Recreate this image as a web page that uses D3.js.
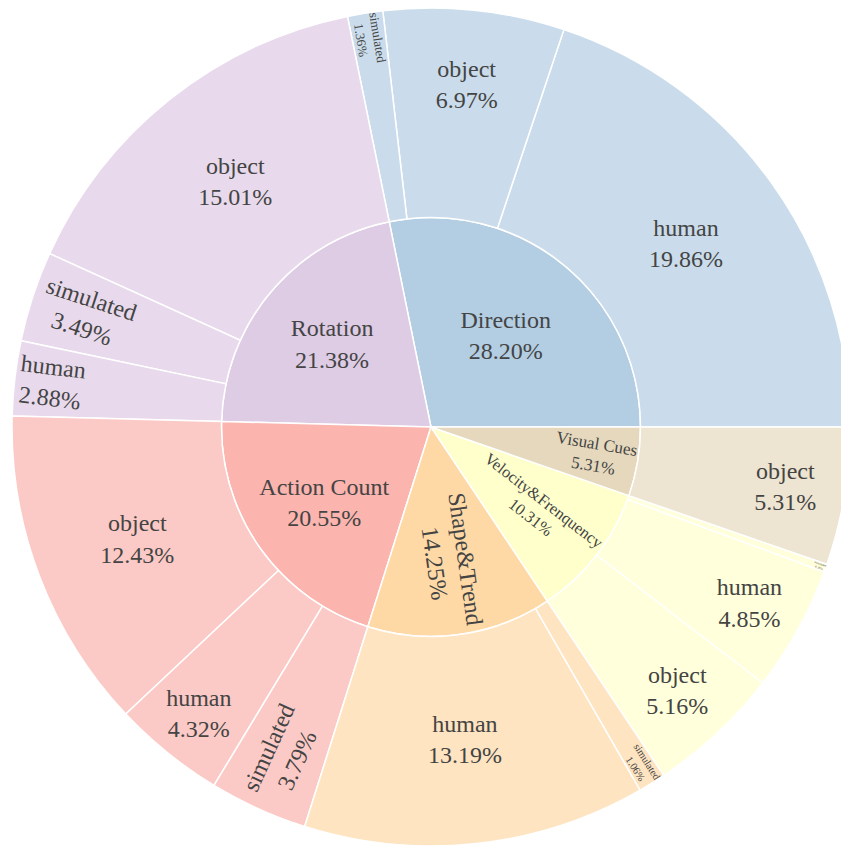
<!DOCTYPE html>
<html>
<head>
<meta charset="utf-8">
<script src="https://cdn.jsdelivr.net/npm/d3@7"></script>
<style>
  body { margin: 0; background: #fff; }
</style>
</head>
<body>
<svg id="chart" width="841" height="846"></svg>
<script>
// inner ring
var categories = ["Direction", "Rotation", "Action Count", "Shape&Trend", "Velocity&Frenquency", "Visual Cues"];
var categoryPct = [28.20, 21.38, 20.55, 14.25, 10.31, 5.31];
var categoryColors = ["#b3cde3", "#decbe4", "#fbb4ae", "#fed9a6", "#ffffcc", "#e5d8bd"];

// outer ring (per category)
var subLabels = [
  ["human", "object", "simulated"],
  ["object", "simulated", "human"],
  ["object", "human", "simulated"],
  ["human", "simulated"],
  ["object", "human", "simulated"],
  ["object"]
];
var subPct = [
  [19.86, 6.97, 1.36],
  [15.01, 3.49, 2.88],
  [12.43, 4.32, 3.79],
  [13.19, 1.06],
  [5.16, 4.85, 0.30],
  [5.31]
];

var cx = 431, cy = 427, R = 419;
var fontSize = 24, TEXTPAD = 3;
var fontFamily = "'Liberation Serif', 'Times New Roman', Times, 'DejaVu Serif', serif";

var svg = d3.select("#chart");
var g = svg.append("g").attr("transform", "translate(" + cx + "," + cy + ")");

var tree = {
  name: "root",
  children: categories.map(function(c, i) {
    return {
      name: c, pct: categoryPct[i], color: categoryColors[i],
      children: subLabels[i].map(function(s, j) {
        return {name: s, pct: subPct[i][j], value: subPct[i][j], color: categoryColors[i]};
      })
    };
  })
};

var root = d3.hierarchy(tree).sum(function(d) { return d.value || 0; });
d3.partition().size([2 * Math.PI, 3])(root);

var rScale = d3.scaleLinear().domain([1, 3]).range([0, R]);

// start at 3 o'clock, go counterclockwise
var arc = d3.arc()
  .startAngle(function(d) { return Math.PI / 2 - d.x1; })
  .endAngle(function(d) { return Math.PI / 2 - d.x0; })
  .innerRadius(function(d) { return rScale(d.y0); })
  .outerRadius(function(d) { return rScale(d.y1); });

var nodes = root.descendants().filter(function(d) { return d.depth > 0; });

g.selectAll("path.slice")
  .data(nodes)
  .enter().append("path")
  .attr("class", "slice")
  .attr("d", arc)
  .attr("fill", function(d) { return d.data.color; })
  .attr("fill-opacity", function(d) { return d.children ? 1 : 0.7; })
  .attr("stroke", "#fff")
  .attr("stroke-width", 1.5);

function maxHalfSize(a, half, r, ring) {
  var q = a + 1 / (2 * Math.tan(half));
  return r * Math.min(1 / (Math.sqrt(q * q + 0.5) + q), ring / (Math.sqrt(a * a + ring / 2) + a));
}
function calcRotate(t) { return (180 / Math.PI * t + 720) % 180 - 90; }

var labels = g.selectAll("text.lbl")
  .data(nodes)
  .enter().append("text")
  .attr("class", "lbl")
  .attr("text-anchor", "middle")
  .attr("font-family", fontFamily)
  .attr("font-size", fontSize)
  .attr("fill", "#444");

labels.append("tspan").attr("x", 0).attr("dy", 0).text(function(d) { return d.data.name; });
labels.append("tspan").attr("x", 0).attr("dy", "1.3em").text(function(d) { return d.data.pct.toFixed(2) + "%"; });

// fit each label in its slice (horizontal, tangential or radial)
labels.each(function(d) {
  var bb = this.getBBox();
  var w = bb.width, h = bb.height;
  var r0 = rScale(d.y0), r1 = rScale(d.y1);
  var ring = 1 - r0 / r1;
  var half = 0.5 * Math.min(d.x1 - d.x0, Math.PI);
  var t = Math.PI / 2 - (d.x0 + d.x1) / 2; // clockwise from top
  var opts = [];

  var rIns = Math.max(0, Math.min(1 / (1 + 1 / Math.sin(half)), ring / 2));
  var hz = {scale: rIns * r1 * 2 / Math.sqrt(w * w + h * h), rCenter: 1 - rIns, rotate: 0};
  var best = hz;
  if (hz.scale < 1) {
    opts.push(hz);
    var rp = Math.max(0, r1 - 2 * TEXTPAD);
    var a = h / w, s = maxHalfSize(a, half, rp, ring);
    opts.push({scale: s * 2 / w, rCenter: Math.cos(s / rp) - a * s / rp, rotate: calcRotate(t + Math.PI / 2)});
    a = w / h; s = maxHalfSize(a, half, rp, ring);
    opts.push({scale: s * 2 / h, rCenter: Math.cos(s / rp) - a * s / rp, rotate: calcRotate(t)});
    best = opts[0];
    opts.forEach(function(o) { if (o.scale > best.scale) best = o; });
  }
  var sc = Math.min(1, best.scale);
  var rr = best.rCenter * r1;
  var tx = rr * Math.sin(t), ty = -rr * Math.cos(t);
  var bx = bb.x + w / 2, by = bb.y + h / 2;
  d3.select(this).attr("transform",
    "translate(" + tx + "," + ty + ") rotate(" + best.rotate + ") scale(" + sc + ") translate(" + (-bx) + "," + (-by) + ")");
});
</script>
</body>
</html>
